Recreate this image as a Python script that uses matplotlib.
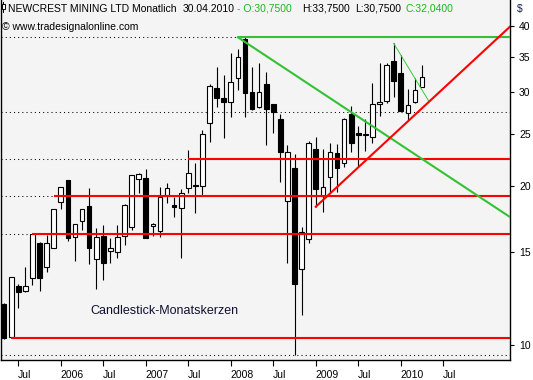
import matplotlib
matplotlib.use('Agg')
import matplotlib.pyplot as plt
from matplotlib.patches import Rectangle
from matplotlib.ticker import NullLocator
import numpy as np

plt.rcParams['font.family'] = ['Liberation Sans', 'DejaVu Sans']

# ---------------- data (monthly candles, NEWCREST MINING LTD) ----------------
months = ['2005-05', '2005-06', '2005-07', '2005-08', '2005-09', '2005-10', '2005-11', '2005-12',
          '2006-01', '2006-02', '2006-03', '2006-04', '2006-05', '2006-06', '2006-07', '2006-08',
          '2006-09', '2006-10', '2006-11', '2006-12', '2007-01', '2007-02', '2007-03', '2007-04',
          '2007-05', '2007-06', '2007-07', '2007-08', '2007-09', '2007-10', '2007-11', '2007-12',
          '2008-01', '2008-02', '2008-03', '2008-04', '2008-05', '2008-06', '2008-07', '2008-08',
          '2008-09', '2008-10', '2008-11', '2008-12', '2009-01', '2009-02', '2009-03', '2009-04',
          '2009-05', '2009-06', '2009-07', '2009-08', '2009-09', '2009-10', '2009-11', '2009-12',
          '2010-01', '2010-02', '2010-03', '2010-04']
opens = [11.95, 10.37, 12.94, 12.62, 13.40, 15.58, 14.02, 15.26,
         18.64, 20.50, 16.01, 17.14, 18.30, 14.51, 16.06, 15.07,
         15.00, 16.06, 16.72, 20.55, 20.64, 16.77, 16.43, 19.19,
         18.38, 18.11, 19.76, 20.05, 19.98, 26.21, 30.51, 29.25,
         28.79, 31.87, 37.75, 30.07, 28.10, 31.09, 28.50, 26.70,
         18.72, 21.55, 13.90, 15.85, 23.41, 19.13, 20.78, 23.00,
         22.08, 27.25, 25.10, 24.95, 24.66, 28.50, 28.88, 34.36,
         32.66, 27.45, 28.71, 30.75]
highs = [12.00, 13.45, 13.05, 14.02, 16.20, 15.62, 16.13, 18.05,
         19.90, 20.52, 16.95, 18.10, 19.76, 16.61, 16.82, 15.90,
         16.82, 18.45, 20.95, 21.10, 21.46, 17.00, 19.90, 20.25,
         19.05, 19.70, 23.34, 22.03, 25.47, 31.10, 33.52, 32.33,
         35.53, 36.15, 38.10, 33.52, 34.01, 32.80, 28.55, 27.29,
         23.85, 22.93, 16.72, 24.30, 24.66, 23.44, 24.03, 23.92,
         26.85, 28.26, 25.90, 26.67, 31.18, 34.11, 34.11, 37.10,
         35.27, 30.38, 31.87, 33.75]
lows = [10.28, 10.32, 11.76, 12.58, 12.98, 12.66, 13.73, 15.24,
        18.06, 15.72, 14.43, 16.49, 14.20, 12.77, 13.27, 14.30,
        14.58, 15.46, 16.50, 19.38, 15.90, 16.06, 15.97, 18.56,
        17.46, 14.60, 19.40, 17.73, 19.11, 24.19, 28.17, 24.55,
        26.97, 30.31, 26.97, 27.80, 28.05, 23.85, 25.09, 20.33,
        14.26, 9.57, 11.39, 15.55, 18.24, 17.85, 19.47, 19.47,
        21.70, 23.17, 21.70, 23.27, 24.03, 27.05, 28.65, 29.40,
        27.60, 26.61, 28.65, 30.75]
closes = [10.30, 13.42, 12.57, 12.91, 16.20, 13.40, 15.58, 18.03,
          19.85, 15.94, 16.90, 18.06, 15.26, 15.97, 14.30, 15.22,
          15.97, 18.35, 20.91, 21.05, 15.94, 16.92, 19.05, 19.76,
          18.24, 19.33, 21.09, 19.95, 24.99, 30.82, 29.29, 28.79,
          31.32, 34.92, 29.94, 27.85, 30.07, 27.85, 27.56, 23.17,
          23.11, 13.02, 16.36, 24.03, 19.67, 19.85, 23.17, 21.55,
          26.67, 24.09, 24.95, 25.05, 28.50, 28.79, 33.77, 31.54,
          27.68, 28.38, 30.31, 32.04]

tick_months = ['2005-07', '2006-01', '2006-07', '2007-01', '2007-07', '2008-01',
               '2008-07', '2009-01', '2009-07', '2010-01', '2010-07']
tick_labels = ['Jul', '2006', 'Jul', '2007', 'Jul', '2008', 'Jul', '2009', 'Jul', '2010', 'Jul']
y_ticks = [10, 15, 20, 25, 30, 35, 40]

red_levels = [10.32, 16.2, 19.1, 22.4]
red_level_starts = ['2005-06', '2005-09', '2005-12', '2007-07']
green_level = 38.1
green_level_start = '2008-02'
dotted_levels = [38.1, 27.5, 22.4, 19.1, 16.2, 9.57]

green_trend = [('2008-02', 38.1), ('2010-05', 22.0)]
red_trend = [('2009-01', 18.24), ('2010-05', 28.8)]
thin_green_trend = [('2009-12', 37.1), ('2010-05', 28.8)]

header_parts = [('NEWCREST MINING LTD Monatlich', 'black', 7.5),
                ('30.04.2010', 'black', 183),
                ('- O:30,7500', '#1fb51f', 237),
                ('H:33,7500', 'black', 302),
                ('L:30,7500', 'black', 355),
                ('C:32,0400', '#1fb51f', 405)]


def midx(s):
    y, m = s.split('-')
    return (int(y) - 2005) * 12 + (int(m) - 5)


# ---------------- figure ----------------
W, H = 533, 380
fig = plt.figure(figsize=(W / 100, H / 100), dpi=100)
fig.patch.set_facecolor('white')
ax = fig.add_axes([1 / W, 20 / H, 509 / W, 360 / H])
ax.set_facecolor('#f4f4f4')
ax.set_yscale('log')
x0, x1 = -0.44, 71.42
ax.set_xlim(x0, x1)
ax.set_ylim(9.369, 44.8)

# dotted level lines
for lv in dotted_levels:
    ax.plot([x0, x1], [lv, lv], color='black', lw=0.75, ls=(0, (1, 3)), zorder=1)

# candles
bw = 0.66
for i, (o, h, l, c) in enumerate(zip(opens, highs, lows, closes)):
    ax.plot([i, i], [l, h], color='black', lw=0.8, zorder=2, solid_capstyle='butt')
    lo, hi = min(o, c), max(o, c)
    fc = 'white' if c >= o else 'black'
    ax.add_patch(Rectangle((i - bw / 2, lo), bw, hi - lo, facecolor=fc,
                           edgecolor='black', lw=0.8, zorder=3))

# horizontal lines
for lv, st in zip(red_levels, red_level_starts):
    ax.plot([midx(st), x1], [lv, lv], color='#ff0000', lw=1.5, zorder=5,
            solid_capstyle='butt')
ax.plot([midx(green_level_start), x1], [green_level, green_level], color='#33c233',
        lw=1.5, zorder=5, solid_capstyle='butt')


def trend(points, extend=True):
    (sa, va), (sb, vb) = points
    xa, xb = midx(sa), midx(sb)
    k = (np.log(vb) - np.log(va)) / (xb - xa)
    xe = x1 if extend else xb
    return [xa, xe], [va, float(np.exp(np.log(va) + k * (xe - xa)))]


gx, gy = trend(green_trend)
ax.plot(gx, gy, color='#33c233', lw=1.5, zorder=5)
rx, ry = trend(red_trend)
ax.plot(rx, ry, color='#ff0000', lw=1.5, zorder=6)
tx, ty = trend(thin_green_trend, extend=False)
ax.plot(tx, ty, color='#33cc33', lw=0.7, zorder=5)

# axes styling
for s in ['left', 'bottom', 'right']:
    ax.spines[s].set_color('black')
    ax.spines[s].set_linewidth(1.0)
ax.spines['top'].set_visible(False)

ax.yaxis.tick_right()
ax.yaxis.set_minor_locator(NullLocator())
ax.set_yticks(y_ticks)
ax.set_yticklabels([str(v) for v in y_ticks])
ax.tick_params(axis='y', which='major', length=3, width=0.8, pad=3.5,
               labelsize=7.5, colors='black', direction='out')

ax.set_xticks([midx(m) for m in tick_months])
ax.set_xticklabels(tick_labels)
for lab in ax.get_xticklabels():
    lab.set_horizontalalignment('left')
ax.tick_params(axis='x', which='major', length=4, width=0.8, pad=3.5,
               labelsize=7.5, colors='black', direction='out')

# texts
def fx(px):
    return (px - 1) / 509


def fy(py):
    return (360 - py) / 360


for txt, col, px in header_parts:
    ax.text(fx(px), fy(11.5), txt, color=col, fontsize=7.5, transform=ax.transAxes,
            ha='left', va='baseline', zorder=10)
ax.text(fx(2), fy(29.5), '\u00a9 www.tradesignalonline.com', color='black', fontsize=7.5,
        transform=ax.transAxes, ha='left', va='baseline', zorder=10)
ax.text(fx(517), fy(12), '$', color='#1a1a50', fontsize=7.5, transform=ax.transAxes,
        ha='left', va='baseline', clip_on=False)
ax.text(fx(90), fy(314.5), 'Candlestick-Monatskerzen', color='#101030', fontsize=9,
        transform=ax.transAxes, ha='left', va='baseline', zorder=10)

# small candle icon in header
ax.plot([fx(3), fx(3)], [fy(2), fy(12)], color='black', lw=0.7, transform=ax.transAxes,
        clip_on=False, zorder=10)
ax.add_patch(Rectangle((fx(1.5), fy(9)), fx(4.5) - fx(1.5), fy(4.5) - fy(9),
                       transform=ax.transAxes, facecolor='white', edgecolor='black',
                       lw=0.7, zorder=11, clip_on=False))

fig.savefig('out.png', dpi=100)
